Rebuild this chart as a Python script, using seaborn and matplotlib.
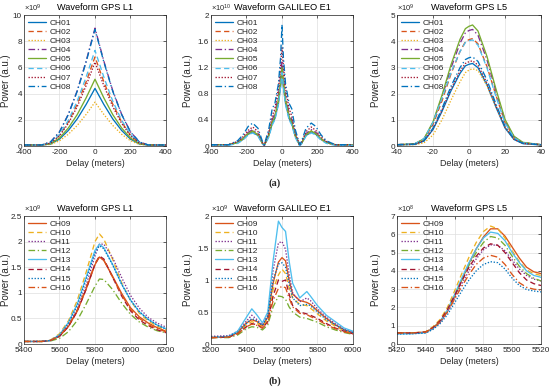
import pandas as pd
import seaborn as sns
import matplotlib.pyplot as plt
from matplotlib.ticker import FuncFormatter

# ---- (a) channels CH01-CH08, powers in units of the axis exponent ----
l1a_delay = [-400, -300, -250, -200, -150, -100, -50, 0, 50, 100, 150, 200, 250, 300, 400]
l1a_power = {  # x1e9
    "CH01": [0.08, 0.08, 0.15, 0.53, 1.19, 2.07, 3.17, 4.40, 3.17, 2.07, 1.19, 0.53, 0.15, 0.08, 0.08],
    "CH02": [0.08, 0.08, 0.24, 0.82, 1.84, 3.20, 4.90, 6.80, 4.90, 3.20, 1.84, 0.82, 0.24, 0.08, 0.08],
    "CH03": [0.08, 0.08, 0.12, 0.40, 0.90, 1.57, 2.41, 3.35, 2.41, 1.57, 0.90, 0.40, 0.12, 0.08, 0.08],
    "CH04": [0.08, 0.08, 0.32, 1.08, 2.43, 4.23, 6.48, 9.00, 6.48, 4.23, 2.43, 1.08, 0.32, 0.08, 0.08],
    "CH05": [0.08, 0.08, 0.18, 0.61, 1.38, 2.40, 3.67, 5.10, 3.67, 2.40, 1.38, 0.61, 0.18, 0.08, 0.08],
    "CH06": [0.08, 0.08, 0.26, 0.88, 1.97, 3.43, 5.26, 7.30, 5.26, 3.43, 1.97, 0.88, 0.26, 0.08, 0.08],
    "CH07": [0.08, 0.08, 0.22, 0.77, 1.73, 3.01, 4.61, 6.40, 4.61, 3.01, 1.73, 0.77, 0.22, 0.08, 0.08],
    "CH08": [0.08, 0.08, 0.31, 1.07, 2.40, 4.18, 6.41, 8.90, 6.41, 4.18, 2.40, 1.07, 0.31, 0.08, 0.08],
}

gala_delay = [-400, -300, -250, -220, -190, -165, -135, -110, -100, -75, -55, -40, -20, -8, 0,
              8, 20, 40, 55, 75, 100, 110, 135, 165, 190, 220, 250, 300, 400]
gala_power = {  # x1e10
    "CH01": [0.02, 0.02, 0.05, 0.10, 0.18, 0.21, 0.16, 0.04, 0.01, 0.15, 0.34, 0.42, 0.65, 0.90, 1.10,
             0.90, 0.65, 0.42, 0.34, 0.15, 0.01, 0.04, 0.16, 0.21, 0.18, 0.10, 0.05, 0.02, 0.02],
    "CH02": [0.02, 0.02, 0.05, 0.11, 0.20, 0.23, 0.17, 0.04, 0.01, 0.16, 0.37, 0.46, 0.71, 0.98, 1.20,
             0.98, 0.71, 0.46, 0.37, 0.16, 0.01, 0.04, 0.17, 0.23, 0.20, 0.11, 0.05, 0.02, 0.02],
    "CH03": [0.02, 0.02, 0.05, 0.10, 0.19, 0.22, 0.17, 0.04, 0.01, 0.16, 0.36, 0.44, 0.68, 0.95, 1.15,
             0.95, 0.68, 0.44, 0.36, 0.16, 0.01, 0.04, 0.17, 0.22, 0.19, 0.10, 0.05, 0.02, 0.02],
    "CH04": [0.02, 0.02, 0.06, 0.12, 0.21, 0.25, 0.19, 0.05, 0.01, 0.18, 0.40, 0.50, 0.77, 1.06, 1.30,
             1.06, 0.77, 0.50, 0.40, 0.18, 0.01, 0.05, 0.19, 0.25, 0.21, 0.12, 0.06, 0.02, 0.02],
    "CH05": [0.02, 0.02, 0.05, 0.11, 0.19, 0.23, 0.17, 0.04, 0.01, 0.16, 0.36, 0.45, 0.70, 0.97, 1.20,
             0.97, 0.70, 0.45, 0.36, 0.16, 0.01, 0.04, 0.17, 0.23, 0.19, 0.11, 0.05, 0.02, 0.02],
    "CH06": [0.01, 0.01, 0.04, 0.09, 0.17, 0.20, 0.15, 0.03, 0.00, 0.13, 0.32, 0.40, 0.63, 0.90, 1.12,
             0.90, 0.63, 0.40, 0.32, 0.13, 0.00, 0.03, 0.15, 0.20, 0.17, 0.09, 0.04, 0.01, 0.01],
    "CH07": [0.02, 0.02, 0.07, 0.14, 0.24, 0.29, 0.22, 0.05, 0.01, 0.20, 0.46, 0.57, 0.88, 1.22, 1.50,
             1.22, 0.88, 0.57, 0.46, 0.20, 0.01, 0.05, 0.22, 0.29, 0.24, 0.14, 0.07, 0.02, 0.02],
    "CH08": [0.02, 0.02, 0.08, 0.17, 0.30, 0.35, 0.27, 0.07, 0.02, 0.25, 0.57, 0.65, 0.95, 1.35, 1.85,
             1.35, 0.95, 0.65, 0.57, 0.25, 0.02, 0.07, 0.27, 0.35, 0.30, 0.17, 0.08, 0.02, 0.02],
}

l5a_delay = [-40, -30, -25, -20, -15, -10, -5, -2, 0, 2, 5, 10, 15, 20, 25, 30, 40]
l5a_power = {  # x1e9
    "CH01": [0.04, 0.06, 0.19, 0.63, 1.32, 2.11, 2.77, 3.06, 3.12, 3.15, 2.99, 2.33, 1.48, 0.69, 0.25, 0.09, 0.04],
    "CH02": [0.05, 0.08, 0.25, 0.82, 1.72, 2.75, 3.61, 3.98, 4.06, 4.10, 3.90, 3.03, 1.93, 0.90, 0.33, 0.12, 0.05],
    "CH03": [0.04, 0.05, 0.12, 0.42, 1.00, 1.75, 2.45, 2.80, 2.90, 2.95, 2.88, 2.30, 1.50, 0.72, 0.28, 0.10, 0.04],
    "CH04": [0.05, 0.09, 0.27, 0.89, 1.87, 2.98, 3.92, 4.32, 4.41, 4.45, 4.23, 3.29, 2.09, 0.98, 0.36, 0.13, 0.05],
    "CH05": [0.05, 0.09, 0.28, 0.92, 1.94, 3.10, 4.07, 4.48, 4.57, 4.62, 4.39, 3.42, 2.17, 1.02, 0.37, 0.14, 0.05],
    "CH06": [0.05, 0.09, 0.28, 0.90, 1.82, 2.80, 3.60, 3.95, 4.02, 4.05, 3.85, 2.98, 1.88, 0.88, 0.32, 0.12, 0.05],
    "CH07": [0.05, 0.07, 0.20, 0.65, 1.37, 2.18, 2.86, 3.15, 3.22, 3.25, 3.09, 2.40, 1.53, 0.72, 0.26, 0.10, 0.05],
    "CH08": [0.05, 0.07, 0.20, 0.68, 1.43, 2.28, 2.99, 3.30, 3.37, 3.40, 3.23, 2.52, 1.60, 0.75, 0.27, 0.10, 0.05],
}

# ---- (b) channels CH09-CH16 ----
l1b_delay = [5400, 5500, 5550, 5600, 5650, 5700, 5750, 5800, 5825, 5850, 5900, 5950, 6000, 6050, 6100, 6150, 6200]
l1b_power = {  # x1e9
    "CH09": [0.05, 0.05, 0.07, 0.15, 0.34, 0.64, 1.07, 1.55, 1.70, 1.63, 1.32, 0.99, 0.71, 0.53, 0.41, 0.32, 0.25],
    "CH10": [0.05, 0.05, 0.08, 0.20, 0.45, 0.85, 1.40, 2.00, 2.15, 2.05, 1.65, 1.20, 0.85, 0.60, 0.45, 0.35, 0.28],
    "CH11": [0.05, 0.05, 0.07, 0.16, 0.36, 0.68, 1.15, 1.72, 1.95, 1.95, 1.68, 1.30, 0.95, 0.70, 0.52, 0.41, 0.33],
    "CH12": [0.05, 0.05, 0.06, 0.11, 0.24, 0.46, 0.78, 1.13, 1.27, 1.26, 1.06, 0.80, 0.58, 0.43, 0.33, 0.26, 0.22],
    "CH13": [0.05, 0.05, 0.07, 0.18, 0.42, 0.78, 1.30, 1.83, 1.95, 1.88, 1.55, 1.17, 0.86, 0.63, 0.48, 0.37, 0.30],
    "CH14": [0.05, 0.05, 0.07, 0.15, 0.34, 0.64, 1.07, 1.56, 1.72, 1.66, 1.30, 0.94, 0.65, 0.47, 0.36, 0.28, 0.22],
    "CH15": [0.05, 0.05, 0.07, 0.17, 0.40, 0.75, 1.26, 1.78, 1.92, 1.86, 1.54, 1.17, 0.86, 0.63, 0.48, 0.37, 0.29],
    "CH16": [0.05, 0.05, 0.07, 0.16, 0.36, 0.66, 1.10, 1.57, 1.70, 1.64, 1.30, 0.96, 0.68, 0.50, 0.38, 0.30, 0.24],
}

galb_delay = [5200, 5300, 5350, 5400, 5430, 5460, 5490, 5520, 5550, 5580, 5600, 5620, 5640, 5660,
              5700, 5740, 5760, 5800, 5850, 5900, 5950, 6000]
galb_power = {  # x1e9
    "CH09": [0.10, 0.11, 0.18, 0.33, 0.38, 0.35, 0.28, 0.42, 0.95, 1.28, 1.35, 1.30, 1.00, 0.78, 0.68, 0.65, 0.62, 0.52, 0.40, 0.30, 0.22, 0.17],
    "CH10": [0.10, 0.11, 0.17, 0.30, 0.35, 0.32, 0.27, 0.38, 0.85, 1.08, 1.17, 1.10, 0.88, 0.72, 0.62, 0.60, 0.56, 0.47, 0.36, 0.28, 0.21, 0.17],
    "CH11": [0.12, 0.13, 0.20, 0.36, 0.45, 0.38, 0.30, 0.45, 1.15, 1.58, 1.60, 1.48, 1.10, 0.80, 0.66, 0.72, 0.68, 0.55, 0.42, 0.32, 0.23, 0.18],
    "CH12": [0.10, 0.10, 0.14, 0.24, 0.27, 0.26, 0.22, 0.30, 0.58, 0.75, 0.74, 0.70, 0.58, 0.50, 0.42, 0.40, 0.38, 0.34, 0.27, 0.22, 0.18, 0.15],
    "CH13": [0.10, 0.12, 0.20, 0.42, 0.55, 0.45, 0.33, 0.50, 1.30, 1.92, 1.82, 1.76, 1.30, 0.95, 0.72, 0.82, 0.75, 0.60, 0.45, 0.35, 0.25, 0.20],
    "CH14": [0.10, 0.11, 0.16, 0.27, 0.32, 0.30, 0.25, 0.35, 0.75, 1.00, 0.98, 1.00, 0.78, 0.60, 0.50, 0.47, 0.45, 0.40, 0.32, 0.25, 0.20, 0.16],
    "CH15": [0.11, 0.12, 0.18, 0.32, 0.40, 0.36, 0.29, 0.43, 1.00, 1.25, 1.27, 1.20, 0.95, 0.72, 0.60, 0.62, 0.60, 0.50, 0.38, 0.30, 0.22, 0.18],
    "CH16": [0.10, 0.11, 0.16, 0.27, 0.31, 0.29, 0.25, 0.33, 0.68, 0.87, 0.90, 0.88, 0.72, 0.58, 0.48, 0.46, 0.43, 0.38, 0.30, 0.24, 0.19, 0.16],
}

l5b_delay = [5420, 5430, 5440, 5445, 5450, 5455, 5460, 5465, 5470, 5475, 5480, 5485, 5490, 5495,
             5500, 5505, 5510, 5515, 5520]
l5b_power = {  # x1e8
    "CH09": [0.62, 0.60, 0.65, 0.85, 1.20, 1.80, 2.60, 3.50, 4.40, 5.20, 5.85, 6.30, 6.30, 5.90, 5.30, 4.70, 4.20, 3.95, 3.85],
    "CH10": [0.62, 0.60, 0.68, 0.95, 1.35, 2.00, 2.90, 3.85, 4.75, 5.55, 6.15, 6.45, 6.30, 5.80, 5.10, 4.50, 4.05, 3.85, 3.75],
    "CH11": [0.60, 0.60, 0.64, 0.85, 1.20, 1.75, 2.50, 3.30, 4.00, 4.65, 5.15, 5.42, 5.40, 5.10, 4.60, 4.10, 3.75, 3.55, 3.45],
    "CH12": [0.60, 0.60, 0.65, 0.88, 1.25, 1.85, 2.65, 3.50, 4.30, 5.00, 5.55, 5.88, 5.80, 5.40, 4.80, 4.25, 3.85, 3.60, 3.45],
    "CH13": [0.55, 0.56, 0.62, 0.85, 1.25, 1.85, 2.70, 3.60, 4.45, 5.20, 5.80, 6.12, 6.05, 5.65, 5.00, 4.45, 4.00, 3.75, 3.65],
    "CH14": [0.60, 0.60, 0.66, 0.90, 1.28, 1.88, 2.65, 3.45, 4.20, 4.80, 5.25, 5.48, 5.40, 5.00, 4.45, 3.90, 3.50, 3.30, 3.20],
    "CH15": [0.55, 0.56, 0.60, 0.80, 1.12, 1.60, 2.25, 2.90, 3.50, 4.00, 4.35, 4.50, 4.45, 4.10, 3.60, 3.20, 2.98, 2.90, 2.85],
    "CH16": [0.60, 0.60, 0.65, 0.88, 1.22, 1.75, 2.45, 3.15, 3.80, 4.35, 4.70, 4.85, 4.75, 4.35, 3.80, 3.35, 3.10, 3.00, 2.95],
}

# matlab default colour order + line styles per channel
solid, dashed, dotted, dashdot = "-", (0, (4, 2.5)), (0, (1, 1.3)), (0, (5, 2, 1, 2))
styles_a = {
    "CH01": ("#0072BD", solid), "CH02": ("#D95319", dashed), "CH03": ("#EDB120", dotted),
    "CH04": ("#7E2F8E", dashdot), "CH05": ("#77AC30", solid), "CH06": ("#4DBEEE", dashed),
    "CH07": ("#A2142F", dotted), "CH08": ("#0072BD", dashdot),
}
styles_b = {
    "CH09": ("#D95319", solid), "CH10": ("#EDB120", dashed), "CH11": ("#7E2F8E", dotted),
    "CH12": ("#77AC30", dashdot), "CH13": ("#4DBEEE", solid), "CH14": ("#A2142F", dashed),
    "CH15": ("#0072BD", dotted), "CH16": ("#D95319", dashdot),
}

sns.set_style("white")
plt.rcParams["font.family"] = ["Liberation Sans", "DejaVu Sans"]
plt.rcParams["mathtext.fontset"] = "custom"
plt.rcParams["mathtext.rm"] = "Liberation Sans"
plt.rcParams["mathtext.it"] = "Liberation Sans:italic"

DARK = "#262626"


def plot_panel(ax, delay, power, styles, title, exponent, xlim, xticks, ylim, yticks, ylab_x):
    for ch, vals in power.items():
        color, ls = styles[ch]
        df = pd.DataFrame({"delay": delay, "power": vals})
        sns.lineplot(data=df, x="delay", y="power", ax=ax, color=color,
                     linestyle=ls, linewidth=0.95, label=ch)
    ax.set_xlim(xlim)
    ax.set_ylim(ylim)
    ax.set_xticks(xticks)
    ax.set_yticks(yticks)
    ax.xaxis.set_major_formatter(FuncFormatter(lambda v, p: f"{v:g}"))
    ax.yaxis.set_major_formatter(FuncFormatter(lambda v, p: f"{v:g}"))
    ax.grid(True, color="#dedede", linewidth=0.5)
    ax.set_axisbelow(True)
    for s in ax.spines.values():
        s.set_color(DARK)
        s.set_linewidth(0.5)
    ax.tick_params(direction="in", length=2, width=0.5, colors=DARK, labelsize=5.9,
                   top=True, right=True)
    ax.tick_params(axis="x", pad=2.5)
    ax.tick_params(axis="y", pad=1.5)
    ax.set_title(title, fontsize=6.6, color="black", pad=3.5)
    ax.set_xlabel("Delay (meters)", fontsize=6.4, color=DARK, labelpad=2)
    ax.set_ylabel("Power (a.u.)", fontsize=7, color=DARK)
    ax.yaxis.set_label_coords(ylab_x, 0.5)
    ax.text(0, 1.008, "×10$^{%d}$" % exponent, transform=ax.transAxes, ha="left", va="bottom",
            fontsize=5.4, color=DARK)
    ax.legend(loc="upper left", frameon=False, fontsize=6.0, handlelength=2.1,
              handletextpad=0.5, labelspacing=0.15, borderaxespad=0.3, borderpad=0.2)


fig = plt.figure(figsize=(5.5, 3.9), dpi=100)
top_y, top_h = 0.6256, 0.3359
bot_y, bot_h = 0.1179, 0.3282
cols = [(0.0436, 0.2582), (0.3836, 0.2582), (0.7218, 0.2618)]
ylab_xs = [-0.09, -0.125, -0.108]

ax1 = fig.add_axes([cols[0][0], top_y, cols[0][1], top_h])
ax2 = fig.add_axes([cols[1][0], top_y, cols[1][1], top_h])
ax3 = fig.add_axes([cols[2][0], top_y, cols[2][1], top_h])
ax4 = fig.add_axes([cols[0][0], bot_y, cols[0][1], bot_h])
ax5 = fig.add_axes([cols[1][0], bot_y, cols[1][1], bot_h])
ax6 = fig.add_axes([cols[2][0], bot_y, cols[2][1], bot_h])

plot_panel(ax1, l1a_delay, l1a_power, styles_a, "Waveform GPS L1", 9,
           (-400, 400), [-400, -200, 0, 200, 400], (0, 10), [0, 2, 4, 6, 8, 10], ylab_xs[0])
plot_panel(ax2, gala_delay, gala_power, styles_a, "Waveform GALILEO E1", 10,
           (-400, 400), [-400, -200, 0, 200, 400], (0, 2), [0, 0.4, 0.8, 1.2, 1.6, 2], ylab_xs[1])
plot_panel(ax3, l5a_delay, l5a_power, styles_a, "Waveform GPS L5", 9,
           (-40, 40), [-40, -20, 0, 20, 40], (0, 5), [0, 1, 2, 3, 4, 5], ylab_xs[2])
plot_panel(ax4, l1b_delay, l1b_power, styles_b, "Waveform GPS L1", 9,
           (5400, 6200), [5400, 5600, 5800, 6000, 6200], (0, 2.5), [0, 0.5, 1, 1.5, 2, 2.5], ylab_xs[0])
plot_panel(ax5, galb_delay, galb_power, styles_b, "Waveform GALILEO E1", 9,
           (5200, 6000), [5200, 5400, 5600, 5800, 6000], (0, 2), [0, 0.5, 1, 1.5, 2], ylab_xs[1])
plot_panel(ax6, l5b_delay, l5b_power, styles_b, "Waveform GPS L5", 8,
           (5420, 5520), [5420, 5440, 5460, 5480, 5500, 5520], (0, 7), [0, 1, 2, 3, 4, 5, 6, 7], ylab_xs[2])

fig.text(0.5, 0.531, "(a)", ha="center", va="center", fontsize=7.5,
         family=["Liberation Serif", "DejaVu Serif"], fontweight="bold")
fig.text(0.5, 0.022, "(b)", ha="center", va="center", fontsize=7.5,
         family=["Liberation Serif", "DejaVu Serif"], fontweight="bold")

fig.savefig("out.png", dpi=100)
